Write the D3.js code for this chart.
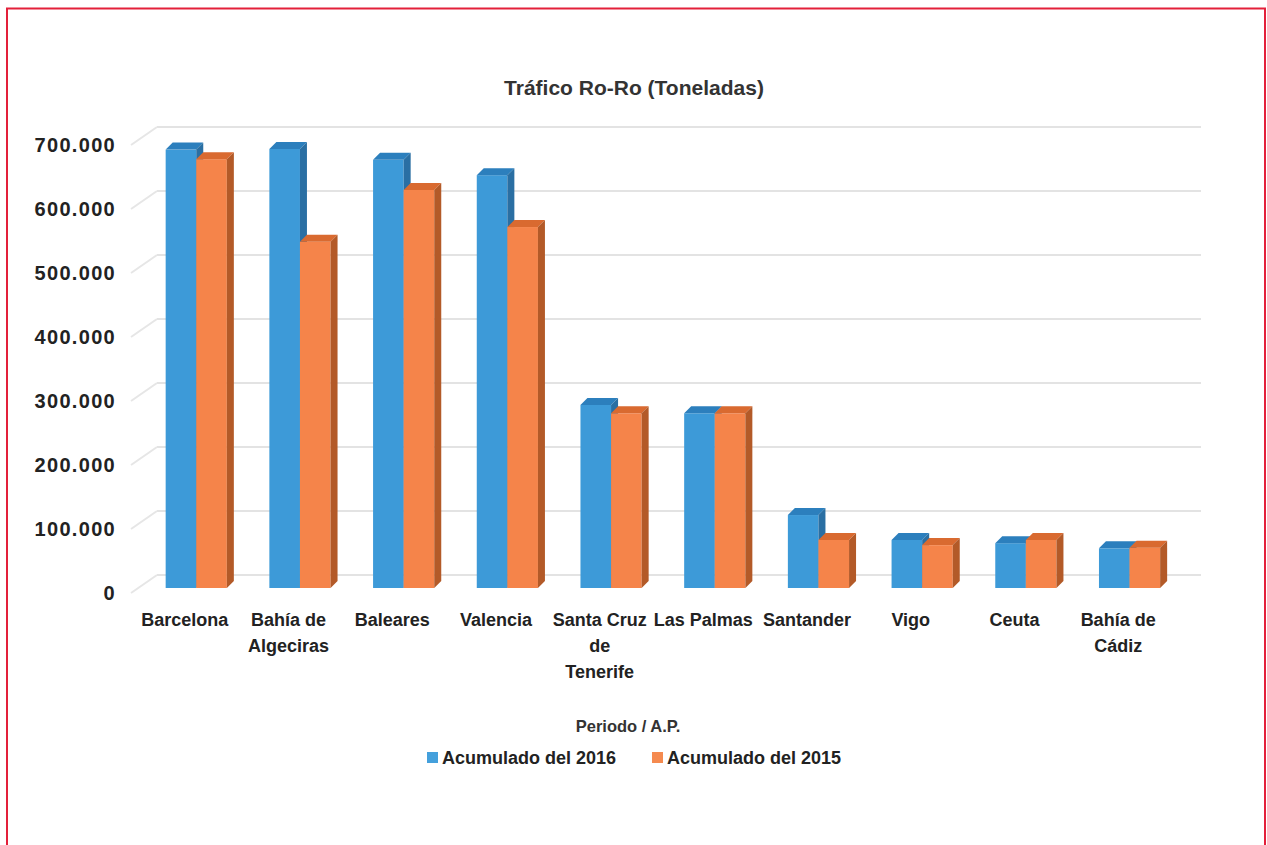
<!DOCTYPE html>
<html>
<head>
<meta charset="utf-8">
<script src="https://cdn.jsdelivr.net/npm/d3@7"></script>
<style>
  html, body { margin: 0; padding: 0; background: #fff; }
  svg { display: block; font-family: "Liberation Sans", Arial, sans-serif; }
</style>
</head>
<body>
<svg id="chart" width="1267" height="845"></svg>
<script>
// Ro-Ro traffic by port authority (tonnes), cumulative 2016 vs 2015
const categories = [
  ["Barcelona"],
  ["Bahía de", "Algeciras"],
  ["Baleares"],
  ["Valencia"],
  ["Santa Cruz", "de", "Tenerife"],
  ["Las Palmas"],
  ["Santander"],
  ["Vigo"],
  ["Ceuta"],
  ["Bahía de", "Cádiz"]
];
const acumulado2016 = [685000, 686000, 669000, 645000, 286000, 273000, 114000, 75000, 70000, 62000];
const acumulado2015 = [670000, 541000, 622000, 564000, 273000, 273000, 75000, 67000, 75000, 63000];
const seriesNames = ["Acumulado del 2016", "Acumulado del 2015"];
const yTicks = [0, 100000, 200000, 300000, 400000, 500000, 600000, 700000];

const svg = d3.select("#chart");

const fmt = d3.formatLocale({ decimal: ",", thousands: ".", grouping: [3], currency: ["", "€"] }).format(",d");

// frame
svg.append("rect")
  .attr("x", 7).attr("y", 8.5).attr("width", 1258).attr("height", 900)
  .attr("fill", "none").attr("stroke", "#e3203a").attr("stroke-width", 2);

// title
svg.append("text")
  .attr("x", 634).attr("y", 95)
  .attr("text-anchor", "middle")
  .attr("font-size", 21).attr("font-weight", "bold").attr("fill", "#333")
  .text("Tráfico Ro-Ro (Toneladas)");

// geometry of the pseudo-3D plot box
const frontBase = 593;      // front edge of the floor
const wallBase = 575;       // base of the back wall
const wallDX = 24;          // horizontal shift of the back wall
const barBase = 588;        // base of the bar front faces
const depth = { dx: 7, dy: -7 };

const h = d3.scaleLinear().domain([0, 700000]).range([0, 448]);
const x = d3.scaleBand().domain(d3.range(categories.length)).range([133, 1170]).padding(0);
const bw = x.bandwidth();

const grid = svg.append("g");
yTicks.forEach(t => {
  const yb = wallBase - h(t);
  const yf = frontBase - h(t);
  // back wall line
  grid.append("line")
    .attr("x1", 133 + wallDX).attr("x2", 1201)
    .attr("y1", yb).attr("y2", yb)
    .attr("stroke", "#e3e3e3").attr("stroke-width", 2);
  // side wall diagonal
  grid.append("line")
    .attr("x1", 131).attr("y1", yf)
    .attr("x2", 133 + wallDX).attr("y2", yb)
    .attr("stroke", "#e6e6e6").attr("stroke-width", 2);
});

// y axis tick labels
svg.append("g").selectAll("text")
  .data(yTicks).join("text")
  .attr("x", 116).attr("y", d => frontBase - h(d))
  .attr("dy", "0.35em")
  .attr("text-anchor", "end")
  .attr("font-size", 20).attr("font-weight", "bold").attr("fill", "#222")
  .attr("letter-spacing", 1.3)
  .text(d => fmt(d));

// bars
const palette = [
  { front: "#3d9ad8", top: "#2c7fbd", side: "#2a6fa3" },
  { front: "#f5844a", top: "#d96a30", side: "#b35a28" }
];
const barW = bw * 0.295;
const bars = svg.append("g");
const series = [acumulado2016, acumulado2015];

function drawBar(x0, w, v, c) {
  const yTop = barBase - h(v);
  const g = bars.append("g");
  g.append("rect").attr("x", x0).attr("y", yTop).attr("width", w).attr("height", barBase - yTop).attr("fill", c.front);
  g.append("path").attr("fill", c.top).attr("d",
    `M${x0},${yTop}L${x0 + w},${yTop}L${x0 + w + depth.dx},${yTop + depth.dy}L${x0 + depth.dx},${yTop + depth.dy}Z`);
  g.append("path").attr("fill", c.side).attr("d",
    `M${x0 + w},${yTop}L${x0 + w + depth.dx},${yTop + depth.dy}L${x0 + w + depth.dx},${barBase + depth.dy}L${x0 + w},${barBase}Z`);
}

categories.forEach((c, i) => {
  const left = x(i) + bw * 0.315;
  series.forEach((s, k) => drawBar(left + k * barW, barW, s[i], palette[k]));
});

// category labels
const catG = svg.append("g");
categories.forEach((lines, i) => {
  const t = catG.append("text")
    .attr("x", x(i) + bw / 2).attr("y", 626)
    .attr("text-anchor", "middle")
    .attr("font-size", 18).attr("font-weight", "bold").attr("fill", "#222");
  lines.forEach((ln, j) => {
    t.append("tspan").attr("x", x(i) + bw / 2).attr("dy", j === 0 ? 0 : 26).text(ln);
  });
});

// axis title
svg.append("text")
  .attr("x", 628).attr("y", 732)
  .attr("text-anchor", "middle")
  .attr("font-size", 16.5).attr("font-weight", "bold").attr("fill", "#333")
  .text("Periodo / A.P.");

// legend
const legend = svg.append("g");
const legendX = [427, 652];
seriesNames.forEach((name, k) => {
  legend.append("rect")
    .attr("x", legendX[k]).attr("y", 752).attr("width", 11).attr("height", 11)
    .attr("fill", k === 0 ? "#44a0dc" : "#f58a4f");
  legend.append("text")
    .attr("x", legendX[k] + 15).attr("y", 764)
    .attr("font-size", 18).attr("font-weight", "bold").attr("fill", "#222")
    .text(name);
});
</script>
</body>
</html>
